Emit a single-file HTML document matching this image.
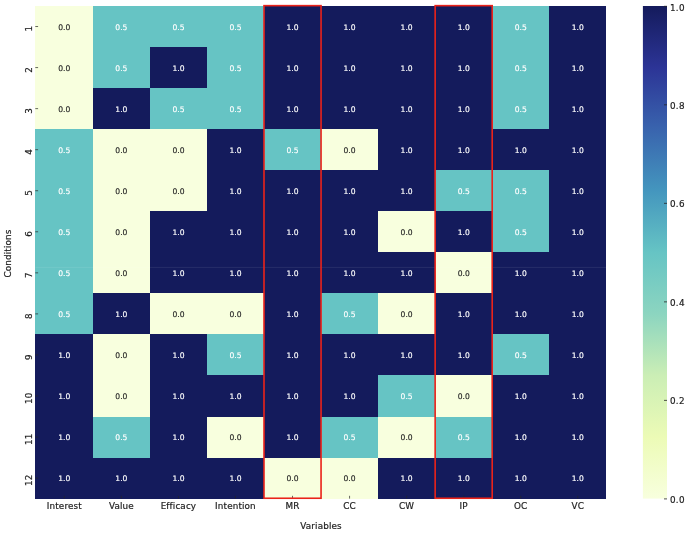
<!DOCTYPE html>
<html><head><meta charset="utf-8"><title>Heatmap</title>
<style>html,body{margin:0;padding:0;background:#fff}svg{display:block}text{font-family:"DejaVu Sans","Liberation Sans",sans-serif}</style></head>
<body>
<svg width="685" height="533" viewBox="0 0 685 533">
<defs><linearGradient id="cb" x1="0" y1="1" x2="0" y2="0">
<stop offset="0.0000" stop-color="rgb(248,255,222)"/>
<stop offset="0.1250" stop-color="rgb(236,251,182)"/>
<stop offset="0.2500" stop-color="rgb(203,238,181)"/>
<stop offset="0.3750" stop-color="rgb(140,213,192)"/>
<stop offset="0.5000" stop-color="rgb(102,196,196)"/>
<stop offset="0.6250" stop-color="rgb(68,150,190)"/>
<stop offset="0.7500" stop-color="rgb(57,100,174)"/>
<stop offset="0.8750" stop-color="rgb(44,52,150)"/>
<stop offset="1.0000" stop-color="rgb(20,27,92)"/>
</linearGradient></defs>
<rect width="685" height="533" fill="#fff"/>
<g shape-rendering="crispEdges">
<rect x="35.30" y="6.00" width="57.55" height="41.05" fill="#f8ffde"/>
<rect x="92.85" y="6.00" width="57.05" height="41.05" fill="#66c4c4"/>
<rect x="149.90" y="6.00" width="57.05" height="41.05" fill="#66c4c4"/>
<rect x="206.95" y="6.00" width="57.05" height="41.05" fill="#66c4c4"/>
<rect x="264.00" y="6.00" width="57.05" height="41.05" fill="#141b5c"/>
<rect x="321.05" y="6.00" width="57.05" height="41.05" fill="#141b5c"/>
<rect x="378.10" y="6.00" width="57.05" height="41.05" fill="#141b5c"/>
<rect x="435.15" y="6.00" width="57.05" height="41.05" fill="#141b5c"/>
<rect x="492.20" y="6.00" width="57.05" height="41.05" fill="#66c4c4"/>
<rect x="549.25" y="6.00" width="57.05" height="41.05" fill="#141b5c"/>
<rect x="35.30" y="47.05" width="57.55" height="41.05" fill="#f8ffde"/>
<rect x="92.85" y="47.05" width="57.05" height="41.05" fill="#66c4c4"/>
<rect x="149.90" y="47.05" width="57.05" height="41.05" fill="#141b5c"/>
<rect x="206.95" y="47.05" width="57.05" height="41.05" fill="#66c4c4"/>
<rect x="264.00" y="47.05" width="57.05" height="41.05" fill="#141b5c"/>
<rect x="321.05" y="47.05" width="57.05" height="41.05" fill="#141b5c"/>
<rect x="378.10" y="47.05" width="57.05" height="41.05" fill="#141b5c"/>
<rect x="435.15" y="47.05" width="57.05" height="41.05" fill="#141b5c"/>
<rect x="492.20" y="47.05" width="57.05" height="41.05" fill="#66c4c4"/>
<rect x="549.25" y="47.05" width="57.05" height="41.05" fill="#141b5c"/>
<rect x="35.30" y="88.10" width="57.55" height="41.05" fill="#f8ffde"/>
<rect x="92.85" y="88.10" width="57.05" height="41.05" fill="#141b5c"/>
<rect x="149.90" y="88.10" width="57.05" height="41.05" fill="#66c4c4"/>
<rect x="206.95" y="88.10" width="57.05" height="41.05" fill="#66c4c4"/>
<rect x="264.00" y="88.10" width="57.05" height="41.05" fill="#141b5c"/>
<rect x="321.05" y="88.10" width="57.05" height="41.05" fill="#141b5c"/>
<rect x="378.10" y="88.10" width="57.05" height="41.05" fill="#141b5c"/>
<rect x="435.15" y="88.10" width="57.05" height="41.05" fill="#141b5c"/>
<rect x="492.20" y="88.10" width="57.05" height="41.05" fill="#66c4c4"/>
<rect x="549.25" y="88.10" width="57.05" height="41.05" fill="#141b5c"/>
<rect x="35.30" y="129.15" width="57.55" height="41.05" fill="#66c4c4"/>
<rect x="92.85" y="129.15" width="57.05" height="41.05" fill="#f8ffde"/>
<rect x="149.90" y="129.15" width="57.05" height="41.05" fill="#f8ffde"/>
<rect x="206.95" y="129.15" width="57.05" height="41.05" fill="#141b5c"/>
<rect x="264.00" y="129.15" width="57.05" height="41.05" fill="#66c4c4"/>
<rect x="321.05" y="129.15" width="57.05" height="41.05" fill="#f8ffde"/>
<rect x="378.10" y="129.15" width="57.05" height="41.05" fill="#141b5c"/>
<rect x="435.15" y="129.15" width="57.05" height="41.05" fill="#141b5c"/>
<rect x="492.20" y="129.15" width="57.05" height="41.05" fill="#141b5c"/>
<rect x="549.25" y="129.15" width="57.05" height="41.05" fill="#141b5c"/>
<rect x="35.30" y="170.20" width="57.55" height="41.05" fill="#66c4c4"/>
<rect x="92.85" y="170.20" width="57.05" height="41.05" fill="#f8ffde"/>
<rect x="149.90" y="170.20" width="57.05" height="41.05" fill="#f8ffde"/>
<rect x="206.95" y="170.20" width="57.05" height="41.05" fill="#141b5c"/>
<rect x="264.00" y="170.20" width="57.05" height="41.05" fill="#141b5c"/>
<rect x="321.05" y="170.20" width="57.05" height="41.05" fill="#141b5c"/>
<rect x="378.10" y="170.20" width="57.05" height="41.05" fill="#141b5c"/>
<rect x="435.15" y="170.20" width="57.05" height="41.05" fill="#66c4c4"/>
<rect x="492.20" y="170.20" width="57.05" height="41.05" fill="#66c4c4"/>
<rect x="549.25" y="170.20" width="57.05" height="41.05" fill="#141b5c"/>
<rect x="35.30" y="211.25" width="57.55" height="41.05" fill="#66c4c4"/>
<rect x="92.85" y="211.25" width="57.05" height="41.05" fill="#f8ffde"/>
<rect x="149.90" y="211.25" width="57.05" height="41.05" fill="#141b5c"/>
<rect x="206.95" y="211.25" width="57.05" height="41.05" fill="#141b5c"/>
<rect x="264.00" y="211.25" width="57.05" height="41.05" fill="#141b5c"/>
<rect x="321.05" y="211.25" width="57.05" height="41.05" fill="#141b5c"/>
<rect x="378.10" y="211.25" width="57.05" height="41.05" fill="#f8ffde"/>
<rect x="435.15" y="211.25" width="57.05" height="41.05" fill="#141b5c"/>
<rect x="492.20" y="211.25" width="57.05" height="41.05" fill="#66c4c4"/>
<rect x="549.25" y="211.25" width="57.05" height="41.05" fill="#141b5c"/>
<rect x="35.30" y="252.30" width="57.55" height="41.05" fill="#66c4c4"/>
<rect x="92.85" y="252.30" width="57.05" height="41.05" fill="#f8ffde"/>
<rect x="149.90" y="252.30" width="57.05" height="41.05" fill="#141b5c"/>
<rect x="206.95" y="252.30" width="57.05" height="41.05" fill="#141b5c"/>
<rect x="264.00" y="252.30" width="57.05" height="41.05" fill="#141b5c"/>
<rect x="321.05" y="252.30" width="57.05" height="41.05" fill="#141b5c"/>
<rect x="378.10" y="252.30" width="57.05" height="41.05" fill="#141b5c"/>
<rect x="435.15" y="252.30" width="57.05" height="41.05" fill="#f8ffde"/>
<rect x="492.20" y="252.30" width="57.05" height="41.05" fill="#141b5c"/>
<rect x="549.25" y="252.30" width="57.05" height="41.05" fill="#141b5c"/>
<rect x="35.30" y="293.35" width="57.55" height="41.05" fill="#66c4c4"/>
<rect x="92.85" y="293.35" width="57.05" height="41.05" fill="#141b5c"/>
<rect x="149.90" y="293.35" width="57.05" height="41.05" fill="#f8ffde"/>
<rect x="206.95" y="293.35" width="57.05" height="41.05" fill="#f8ffde"/>
<rect x="264.00" y="293.35" width="57.05" height="41.05" fill="#141b5c"/>
<rect x="321.05" y="293.35" width="57.05" height="41.05" fill="#66c4c4"/>
<rect x="378.10" y="293.35" width="57.05" height="41.05" fill="#f8ffde"/>
<rect x="435.15" y="293.35" width="57.05" height="41.05" fill="#141b5c"/>
<rect x="492.20" y="293.35" width="57.05" height="41.05" fill="#141b5c"/>
<rect x="549.25" y="293.35" width="57.05" height="41.05" fill="#141b5c"/>
<rect x="35.30" y="334.40" width="57.55" height="41.05" fill="#141b5c"/>
<rect x="92.85" y="334.40" width="57.05" height="41.05" fill="#f8ffde"/>
<rect x="149.90" y="334.40" width="57.05" height="41.05" fill="#141b5c"/>
<rect x="206.95" y="334.40" width="57.05" height="41.05" fill="#66c4c4"/>
<rect x="264.00" y="334.40" width="57.05" height="41.05" fill="#141b5c"/>
<rect x="321.05" y="334.40" width="57.05" height="41.05" fill="#141b5c"/>
<rect x="378.10" y="334.40" width="57.05" height="41.05" fill="#141b5c"/>
<rect x="435.15" y="334.40" width="57.05" height="41.05" fill="#141b5c"/>
<rect x="492.20" y="334.40" width="57.05" height="41.05" fill="#66c4c4"/>
<rect x="549.25" y="334.40" width="57.05" height="41.05" fill="#141b5c"/>
<rect x="35.30" y="375.45" width="57.55" height="41.05" fill="#141b5c"/>
<rect x="92.85" y="375.45" width="57.05" height="41.05" fill="#f8ffde"/>
<rect x="149.90" y="375.45" width="57.05" height="41.05" fill="#141b5c"/>
<rect x="206.95" y="375.45" width="57.05" height="41.05" fill="#141b5c"/>
<rect x="264.00" y="375.45" width="57.05" height="41.05" fill="#141b5c"/>
<rect x="321.05" y="375.45" width="57.05" height="41.05" fill="#141b5c"/>
<rect x="378.10" y="375.45" width="57.05" height="41.05" fill="#66c4c4"/>
<rect x="435.15" y="375.45" width="57.05" height="41.05" fill="#f8ffde"/>
<rect x="492.20" y="375.45" width="57.05" height="41.05" fill="#141b5c"/>
<rect x="549.25" y="375.45" width="57.05" height="41.05" fill="#141b5c"/>
<rect x="35.30" y="416.50" width="57.55" height="41.05" fill="#141b5c"/>
<rect x="92.85" y="416.50" width="57.05" height="41.05" fill="#66c4c4"/>
<rect x="149.90" y="416.50" width="57.05" height="41.05" fill="#141b5c"/>
<rect x="206.95" y="416.50" width="57.05" height="41.05" fill="#f8ffde"/>
<rect x="264.00" y="416.50" width="57.05" height="41.05" fill="#141b5c"/>
<rect x="321.05" y="416.50" width="57.05" height="41.05" fill="#66c4c4"/>
<rect x="378.10" y="416.50" width="57.05" height="41.05" fill="#f8ffde"/>
<rect x="435.15" y="416.50" width="57.05" height="41.05" fill="#66c4c4"/>
<rect x="492.20" y="416.50" width="57.05" height="41.05" fill="#141b5c"/>
<rect x="549.25" y="416.50" width="57.05" height="41.05" fill="#141b5c"/>
<rect x="35.30" y="457.55" width="57.55" height="41.05" fill="#141b5c"/>
<rect x="92.85" y="457.55" width="57.05" height="41.05" fill="#141b5c"/>
<rect x="149.90" y="457.55" width="57.05" height="41.05" fill="#141b5c"/>
<rect x="206.95" y="457.55" width="57.05" height="41.05" fill="#141b5c"/>
<rect x="264.00" y="457.55" width="57.05" height="41.05" fill="#f8ffde"/>
<rect x="321.05" y="457.55" width="57.05" height="41.05" fill="#f8ffde"/>
<rect x="378.10" y="457.55" width="57.05" height="41.05" fill="#141b5c"/>
<rect x="435.15" y="457.55" width="57.05" height="41.05" fill="#141b5c"/>
<rect x="492.20" y="457.55" width="57.05" height="41.05" fill="#141b5c"/>
<rect x="549.25" y="457.55" width="57.05" height="41.05" fill="#141b5c"/>
</g>
<g font-size="7.6" text-anchor="middle" stroke-width="0.15">
<text x="64.32" y="29.65" fill="#262626" stroke="#262626">0.0</text>
<text x="121.37" y="29.65" fill="#fff" stroke="#fff">0.5</text>
<text x="178.43" y="29.65" fill="#fff" stroke="#fff">0.5</text>
<text x="235.47" y="29.65" fill="#fff" stroke="#fff">0.5</text>
<text x="292.52" y="29.65" fill="#fff" stroke="#fff">1.0</text>
<text x="349.57" y="29.65" fill="#fff" stroke="#fff">1.0</text>
<text x="406.62" y="29.65" fill="#fff" stroke="#fff">1.0</text>
<text x="463.68" y="29.65" fill="#fff" stroke="#fff">1.0</text>
<text x="520.72" y="29.65" fill="#fff" stroke="#fff">0.5</text>
<text x="577.77" y="29.65" fill="#fff" stroke="#fff">1.0</text>
<text x="64.32" y="70.70" fill="#262626" stroke="#262626">0.0</text>
<text x="121.37" y="70.70" fill="#fff" stroke="#fff">0.5</text>
<text x="178.43" y="70.70" fill="#fff" stroke="#fff">1.0</text>
<text x="235.47" y="70.70" fill="#fff" stroke="#fff">0.5</text>
<text x="292.52" y="70.70" fill="#fff" stroke="#fff">1.0</text>
<text x="349.57" y="70.70" fill="#fff" stroke="#fff">1.0</text>
<text x="406.62" y="70.70" fill="#fff" stroke="#fff">1.0</text>
<text x="463.68" y="70.70" fill="#fff" stroke="#fff">1.0</text>
<text x="520.72" y="70.70" fill="#fff" stroke="#fff">0.5</text>
<text x="577.77" y="70.70" fill="#fff" stroke="#fff">1.0</text>
<text x="64.32" y="111.75" fill="#262626" stroke="#262626">0.0</text>
<text x="121.37" y="111.75" fill="#fff" stroke="#fff">1.0</text>
<text x="178.43" y="111.75" fill="#fff" stroke="#fff">0.5</text>
<text x="235.47" y="111.75" fill="#fff" stroke="#fff">0.5</text>
<text x="292.52" y="111.75" fill="#fff" stroke="#fff">1.0</text>
<text x="349.57" y="111.75" fill="#fff" stroke="#fff">1.0</text>
<text x="406.62" y="111.75" fill="#fff" stroke="#fff">1.0</text>
<text x="463.68" y="111.75" fill="#fff" stroke="#fff">1.0</text>
<text x="520.72" y="111.75" fill="#fff" stroke="#fff">0.5</text>
<text x="577.77" y="111.75" fill="#fff" stroke="#fff">1.0</text>
<text x="64.32" y="152.80" fill="#fff" stroke="#fff">0.5</text>
<text x="121.37" y="152.80" fill="#262626" stroke="#262626">0.0</text>
<text x="178.43" y="152.80" fill="#262626" stroke="#262626">0.0</text>
<text x="235.47" y="152.80" fill="#fff" stroke="#fff">1.0</text>
<text x="292.52" y="152.80" fill="#fff" stroke="#fff">0.5</text>
<text x="349.57" y="152.80" fill="#262626" stroke="#262626">0.0</text>
<text x="406.62" y="152.80" fill="#fff" stroke="#fff">1.0</text>
<text x="463.68" y="152.80" fill="#fff" stroke="#fff">1.0</text>
<text x="520.72" y="152.80" fill="#fff" stroke="#fff">1.0</text>
<text x="577.77" y="152.80" fill="#fff" stroke="#fff">1.0</text>
<text x="64.32" y="193.85" fill="#fff" stroke="#fff">0.5</text>
<text x="121.37" y="193.85" fill="#262626" stroke="#262626">0.0</text>
<text x="178.43" y="193.85" fill="#262626" stroke="#262626">0.0</text>
<text x="235.47" y="193.85" fill="#fff" stroke="#fff">1.0</text>
<text x="292.52" y="193.85" fill="#fff" stroke="#fff">1.0</text>
<text x="349.57" y="193.85" fill="#fff" stroke="#fff">1.0</text>
<text x="406.62" y="193.85" fill="#fff" stroke="#fff">1.0</text>
<text x="463.68" y="193.85" fill="#fff" stroke="#fff">0.5</text>
<text x="520.72" y="193.85" fill="#fff" stroke="#fff">0.5</text>
<text x="577.77" y="193.85" fill="#fff" stroke="#fff">1.0</text>
<text x="64.32" y="234.90" fill="#fff" stroke="#fff">0.5</text>
<text x="121.37" y="234.90" fill="#262626" stroke="#262626">0.0</text>
<text x="178.43" y="234.90" fill="#fff" stroke="#fff">1.0</text>
<text x="235.47" y="234.90" fill="#fff" stroke="#fff">1.0</text>
<text x="292.52" y="234.90" fill="#fff" stroke="#fff">1.0</text>
<text x="349.57" y="234.90" fill="#fff" stroke="#fff">1.0</text>
<text x="406.62" y="234.90" fill="#262626" stroke="#262626">0.0</text>
<text x="463.68" y="234.90" fill="#fff" stroke="#fff">1.0</text>
<text x="520.72" y="234.90" fill="#fff" stroke="#fff">0.5</text>
<text x="577.77" y="234.90" fill="#fff" stroke="#fff">1.0</text>
<text x="64.32" y="275.95" fill="#fff" stroke="#fff">0.5</text>
<text x="121.37" y="275.95" fill="#262626" stroke="#262626">0.0</text>
<text x="178.43" y="275.95" fill="#fff" stroke="#fff">1.0</text>
<text x="235.47" y="275.95" fill="#fff" stroke="#fff">1.0</text>
<text x="292.52" y="275.95" fill="#fff" stroke="#fff">1.0</text>
<text x="349.57" y="275.95" fill="#fff" stroke="#fff">1.0</text>
<text x="406.62" y="275.95" fill="#fff" stroke="#fff">1.0</text>
<text x="463.68" y="275.95" fill="#262626" stroke="#262626">0.0</text>
<text x="520.72" y="275.95" fill="#fff" stroke="#fff">1.0</text>
<text x="577.77" y="275.95" fill="#fff" stroke="#fff">1.0</text>
<text x="64.32" y="317.00" fill="#fff" stroke="#fff">0.5</text>
<text x="121.37" y="317.00" fill="#fff" stroke="#fff">1.0</text>
<text x="178.43" y="317.00" fill="#262626" stroke="#262626">0.0</text>
<text x="235.47" y="317.00" fill="#262626" stroke="#262626">0.0</text>
<text x="292.52" y="317.00" fill="#fff" stroke="#fff">1.0</text>
<text x="349.57" y="317.00" fill="#fff" stroke="#fff">0.5</text>
<text x="406.62" y="317.00" fill="#262626" stroke="#262626">0.0</text>
<text x="463.68" y="317.00" fill="#fff" stroke="#fff">1.0</text>
<text x="520.72" y="317.00" fill="#fff" stroke="#fff">1.0</text>
<text x="577.77" y="317.00" fill="#fff" stroke="#fff">1.0</text>
<text x="64.32" y="358.05" fill="#fff" stroke="#fff">1.0</text>
<text x="121.37" y="358.05" fill="#262626" stroke="#262626">0.0</text>
<text x="178.43" y="358.05" fill="#fff" stroke="#fff">1.0</text>
<text x="235.47" y="358.05" fill="#fff" stroke="#fff">0.5</text>
<text x="292.52" y="358.05" fill="#fff" stroke="#fff">1.0</text>
<text x="349.57" y="358.05" fill="#fff" stroke="#fff">1.0</text>
<text x="406.62" y="358.05" fill="#fff" stroke="#fff">1.0</text>
<text x="463.68" y="358.05" fill="#fff" stroke="#fff">1.0</text>
<text x="520.72" y="358.05" fill="#fff" stroke="#fff">0.5</text>
<text x="577.77" y="358.05" fill="#fff" stroke="#fff">1.0</text>
<text x="64.32" y="399.10" fill="#fff" stroke="#fff">1.0</text>
<text x="121.37" y="399.10" fill="#262626" stroke="#262626">0.0</text>
<text x="178.43" y="399.10" fill="#fff" stroke="#fff">1.0</text>
<text x="235.47" y="399.10" fill="#fff" stroke="#fff">1.0</text>
<text x="292.52" y="399.10" fill="#fff" stroke="#fff">1.0</text>
<text x="349.57" y="399.10" fill="#fff" stroke="#fff">1.0</text>
<text x="406.62" y="399.10" fill="#fff" stroke="#fff">0.5</text>
<text x="463.68" y="399.10" fill="#262626" stroke="#262626">0.0</text>
<text x="520.72" y="399.10" fill="#fff" stroke="#fff">1.0</text>
<text x="577.77" y="399.10" fill="#fff" stroke="#fff">1.0</text>
<text x="64.32" y="440.15" fill="#fff" stroke="#fff">1.0</text>
<text x="121.37" y="440.15" fill="#fff" stroke="#fff">0.5</text>
<text x="178.43" y="440.15" fill="#fff" stroke="#fff">1.0</text>
<text x="235.47" y="440.15" fill="#262626" stroke="#262626">0.0</text>
<text x="292.52" y="440.15" fill="#fff" stroke="#fff">1.0</text>
<text x="349.57" y="440.15" fill="#fff" stroke="#fff">0.5</text>
<text x="406.62" y="440.15" fill="#262626" stroke="#262626">0.0</text>
<text x="463.68" y="440.15" fill="#fff" stroke="#fff">0.5</text>
<text x="520.72" y="440.15" fill="#fff" stroke="#fff">1.0</text>
<text x="577.77" y="440.15" fill="#fff" stroke="#fff">1.0</text>
<text x="64.32" y="481.20" fill="#fff" stroke="#fff">1.0</text>
<text x="121.37" y="481.20" fill="#fff" stroke="#fff">1.0</text>
<text x="178.43" y="481.20" fill="#fff" stroke="#fff">1.0</text>
<text x="235.47" y="481.20" fill="#fff" stroke="#fff">1.0</text>
<text x="292.52" y="481.20" fill="#262626" stroke="#262626">0.0</text>
<text x="349.57" y="481.20" fill="#262626" stroke="#262626">0.0</text>
<text x="406.62" y="481.20" fill="#fff" stroke="#fff">1.0</text>
<text x="463.68" y="481.20" fill="#fff" stroke="#fff">1.0</text>
<text x="520.72" y="481.20" fill="#fff" stroke="#fff">1.0</text>
<text x="577.77" y="481.20" fill="#fff" stroke="#fff">1.0</text>
</g>
<rect x="35.3" y="266.9" width="571" height="1" fill="#fff" opacity="0.08"/>
<g stroke="#262626" stroke-width="0.7">
<line x1="64.32" y1="495.80" x2="64.32" y2="498.60"/>
<line x1="121.37" y1="495.80" x2="121.37" y2="498.60"/>
<line x1="178.43" y1="495.80" x2="178.43" y2="498.60"/>
<line x1="235.47" y1="495.80" x2="235.47" y2="498.60"/>
<line x1="292.52" y1="495.80" x2="292.52" y2="498.60"/>
<line x1="349.57" y1="495.80" x2="349.57" y2="498.60"/>
<line x1="406.62" y1="495.80" x2="406.62" y2="498.60"/>
<line x1="463.68" y1="495.80" x2="463.68" y2="498.60"/>
<line x1="520.72" y1="495.80" x2="520.72" y2="498.60"/>
<line x1="577.77" y1="495.80" x2="577.77" y2="498.60"/>
<line x1="35.3" y1="26.53" x2="38.1" y2="26.53"/>
<line x1="35.3" y1="67.58" x2="38.1" y2="67.58"/>
<line x1="35.3" y1="108.63" x2="38.1" y2="108.63"/>
<line x1="35.3" y1="149.68" x2="38.1" y2="149.68"/>
<line x1="35.3" y1="190.73" x2="38.1" y2="190.73"/>
<line x1="35.3" y1="231.78" x2="38.1" y2="231.78"/>
<line x1="35.3" y1="272.83" x2="38.1" y2="272.83"/>
<line x1="35.3" y1="313.88" x2="38.1" y2="313.88"/>
<line x1="35.3" y1="354.93" x2="38.1" y2="354.93"/>
<line x1="35.3" y1="395.98" x2="38.1" y2="395.98"/>
<line x1="35.3" y1="437.03" x2="38.1" y2="437.03"/>
<line x1="35.3" y1="478.08" x2="38.1" y2="478.08"/>
</g>
<rect x="264.00" y="5.65" width="57.05" height="492.60" fill="none" stroke="#ea231a" stroke-width="1.6"/>
<rect x="435.15" y="5.65" width="57.05" height="492.60" fill="none" stroke="#ea231a" stroke-width="1.6"/>
<g font-size="8.8" text-anchor="middle" fill="#1e1e1e" stroke="#1e1e1e" stroke-width="0.2" letter-spacing="0.14">
<text x="64.32" y="508.6">Interest</text>
<text x="121.37" y="508.6">Value</text>
<text x="178.43" y="508.6">Efficacy</text>
<text x="235.47" y="508.6">Intention</text>
<text x="292.52" y="508.6">MR</text>
<text x="349.57" y="508.6">CC</text>
<text x="406.62" y="508.6">CW</text>
<text x="463.68" y="508.6">IP</text>
<text x="520.72" y="508.6">OC</text>
<text x="577.77" y="508.6">VC</text>
<text x="321.05" y="528.7">Variables</text>
<text transform="translate(32.2 28.73) rotate(-90)" x="0" y="0">1</text>
<text transform="translate(32.2 69.78) rotate(-90)" x="0" y="0">2</text>
<text transform="translate(32.2 110.83) rotate(-90)" x="0" y="0">3</text>
<text transform="translate(32.2 151.88) rotate(-90)" x="0" y="0">4</text>
<text transform="translate(32.2 192.93) rotate(-90)" x="0" y="0">5</text>
<text transform="translate(32.2 233.98) rotate(-90)" x="0" y="0">6</text>
<text transform="translate(32.2 275.03) rotate(-90)" x="0" y="0">7</text>
<text transform="translate(32.2 316.08) rotate(-90)" x="0" y="0">8</text>
<text transform="translate(32.2 357.12) rotate(-90)" x="0" y="0">9</text>
<text transform="translate(32.2 398.18) rotate(-90)" x="0" y="0">10</text>
<text transform="translate(32.2 439.23) rotate(-90)" x="0" y="0">11</text>
<text transform="translate(32.2 480.28) rotate(-90)" x="0" y="0">12</text>
<text transform="translate(11.1 253.50) rotate(-90)" x="0" y="0">Conditions</text>
</g>
<rect x="642.9" y="6.0" width="24.10" height="492.60" fill="url(#cb)"/>
<g font-size="8.8" fill="#1e1e1e" stroke="#1e1e1e" stroke-width="0.2" letter-spacing="0.3">
<line x1="664.00" y1="498.90" x2="667.00" y2="498.90" stroke="#262626" stroke-width="0.8"/>
<text x="669.9" y="502.61">0.0</text>
<line x1="664.00" y1="400.38" x2="667.00" y2="400.38" stroke="#262626" stroke-width="0.8"/>
<text x="669.9" y="404.09">0.2</text>
<line x1="664.00" y1="301.86" x2="667.00" y2="301.86" stroke="#262626" stroke-width="0.8"/>
<text x="669.9" y="305.57">0.4</text>
<line x1="664.00" y1="203.34" x2="667.00" y2="203.34" stroke="#262626" stroke-width="0.8"/>
<text x="669.9" y="207.05">0.6</text>
<line x1="664.00" y1="104.82" x2="667.00" y2="104.82" stroke="#262626" stroke-width="0.8"/>
<text x="669.9" y="108.53">0.8</text>
<line x1="664.00" y1="6.30" x2="667.00" y2="6.30" stroke="#262626" stroke-width="0.8"/>
<text x="669.9" y="10.51">1.0</text>
</g>
</svg>
</body></html>
